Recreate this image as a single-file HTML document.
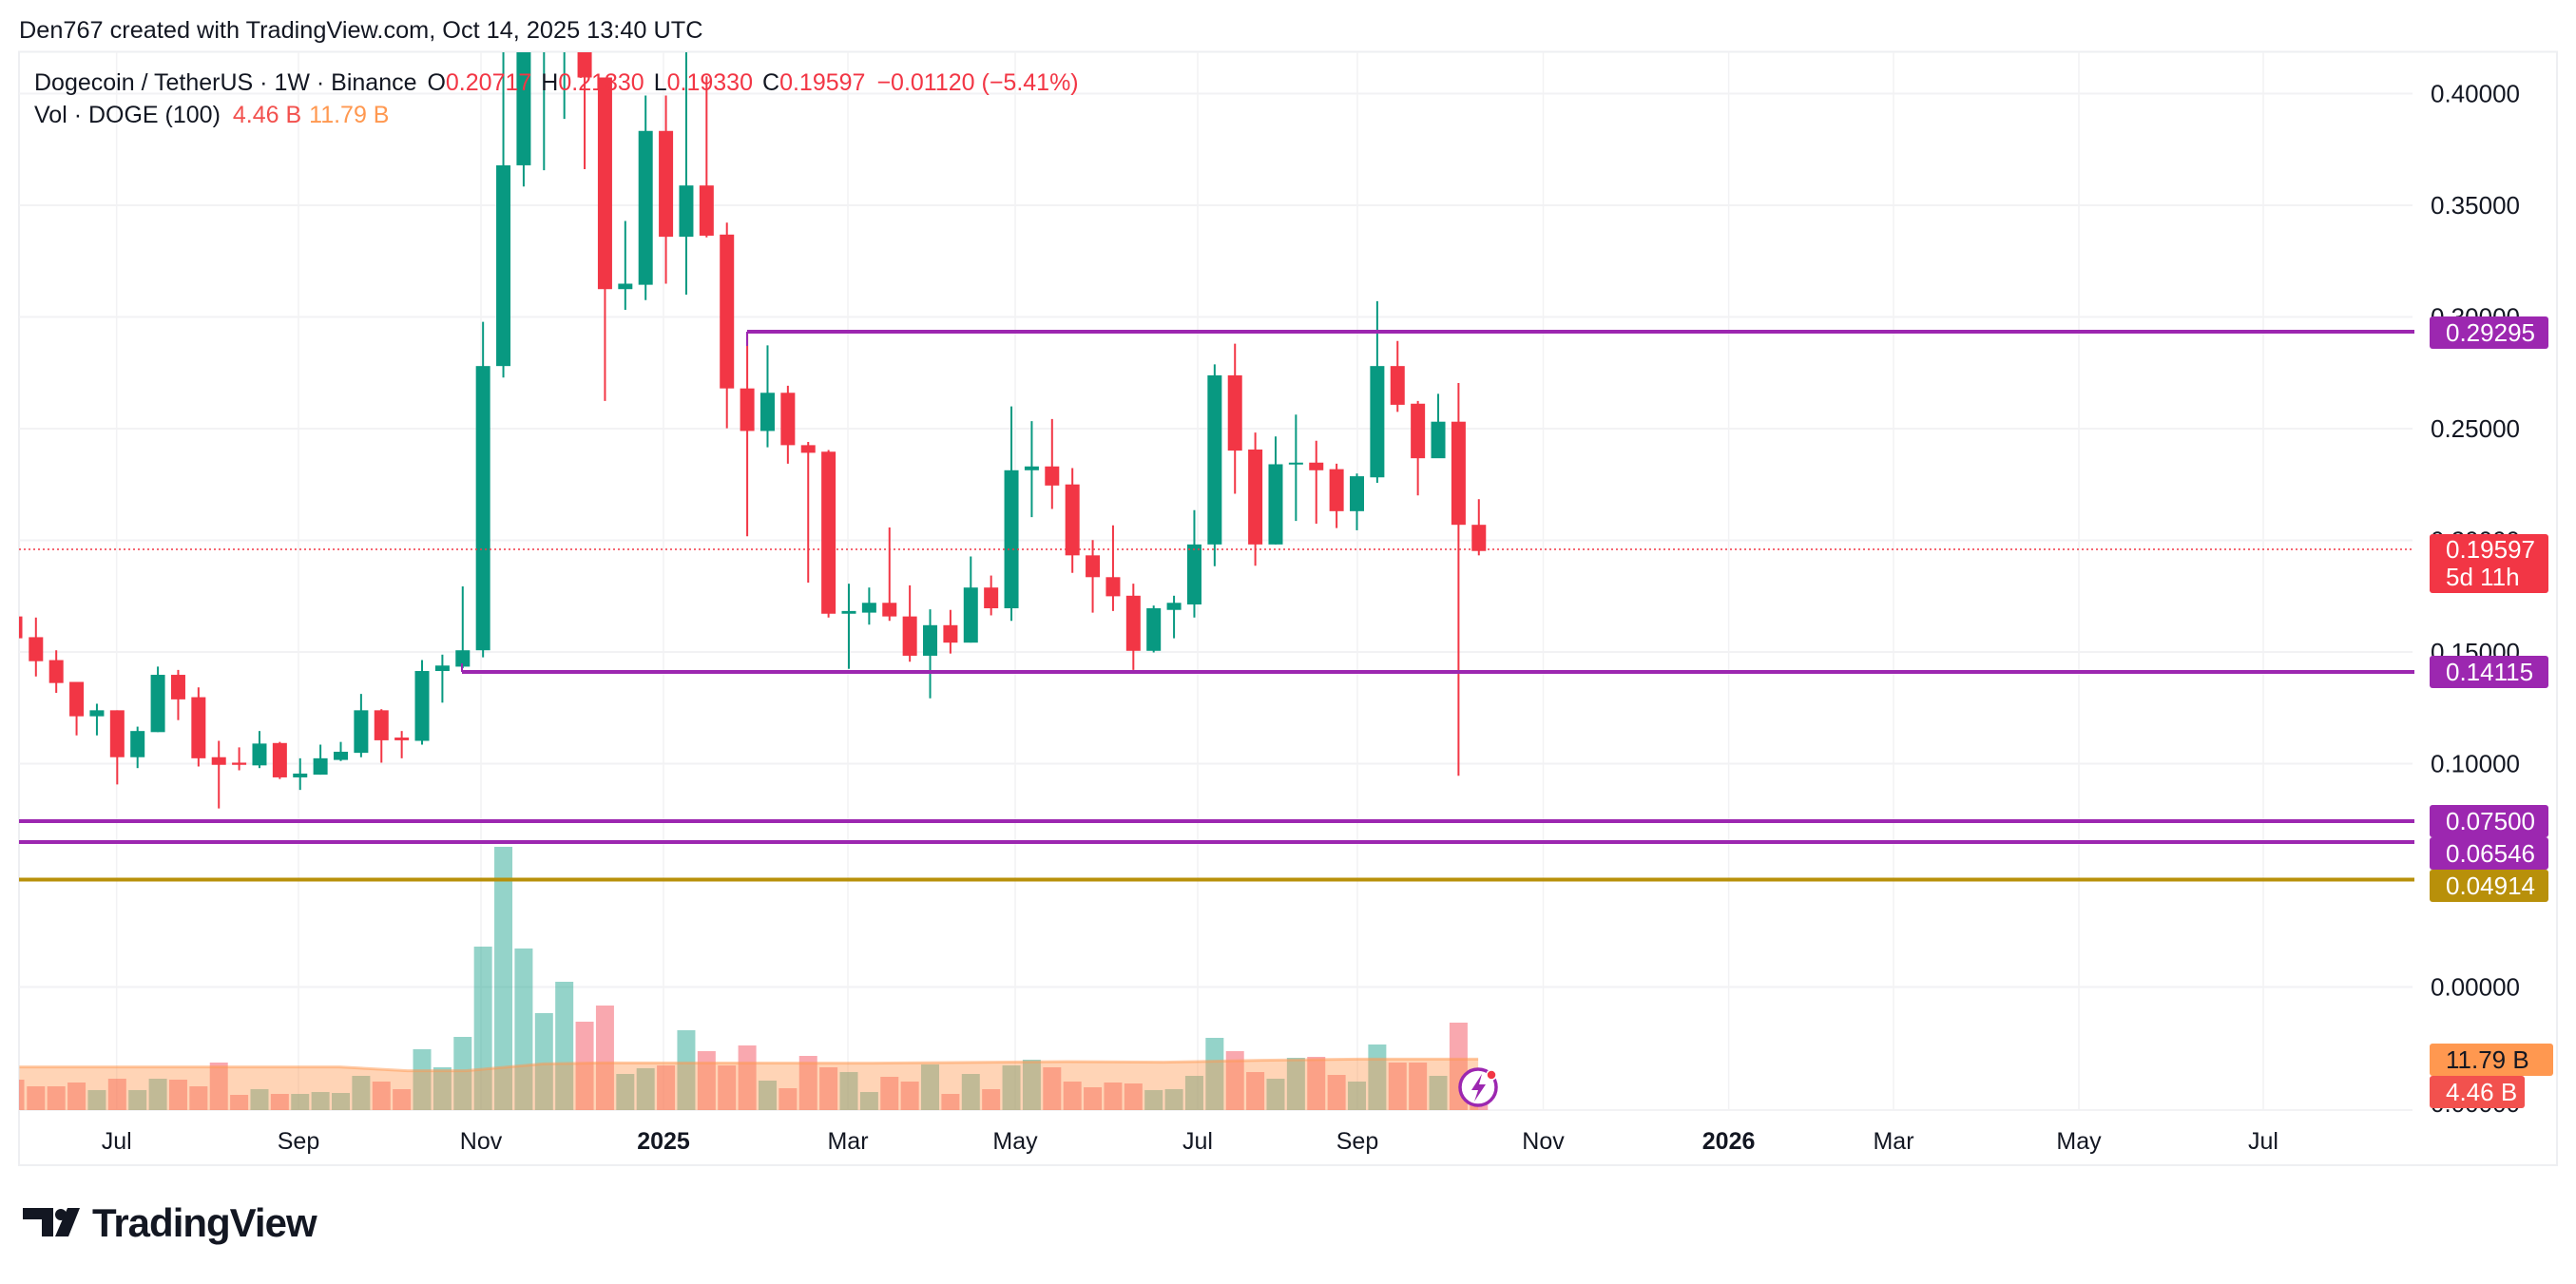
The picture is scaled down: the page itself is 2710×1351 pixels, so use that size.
<!DOCTYPE html>
<html><head><meta charset="utf-8">
<style>
html,body{margin:0;padding:0;background:#fff;}
body{width:2710px;height:1346px;overflow:hidden;font-family:"Liberation Sans",sans-serif;}
svg text{font-family:"Liberation Sans",sans-serif;}
</style></head><body>
<svg id="s" width="2710" height="1346" xmlns="http://www.w3.org/2000/svg"></svg>
<script>
const S=document.getElementById('s');
let h='';
const G='#089981',R='#F23645';
h+='<rect x="20" y="54.5" width="2670" height="1171.5" fill="none" stroke="#eeeff2" stroke-width="2"/>';
const tl=[[122.7,'Jul'],[314,'Sep'],[506,'Nov'],[698,'2025',1],[892,'Mar'],[1068,'May'],[1260,'Jul'],[1428,'Sep'],[1623.5,'Nov'],[1818.6,'2026',1],[1992,'Mar'],[2187,'May'],[2381,'Jul']];
tl.forEach(t=>{h+=`<line x1="${t[0]}" y1="55" x2="${t[0]}" y2="1168" stroke="#f2f2f4" stroke-width="1.5"/>`;});
const py=p=>803.5-(p-0.1)*2350;
[0.4,0.35,0.3,0.25,0.2,0.15,0.1,0.0].forEach(p=>{h+=`<line x1="20" y1="${py(p)}" x2="2538" y2="${py(p)}" stroke="#f2f2f4" stroke-width="2"/>`;});
h+=`<line x1="20" y1="1168" x2="2538" y2="1168" stroke="#f2f2f4" stroke-width="2"/>`;
const C=[
['r',1130,1130,1170,1170,20],['r',1132,1168,1212,1240],['r',1192,1210,1252,1270],['r',1250,1250,1313,1348],['g',1290,1302,1313,1348],
['r',1302,1302,1388,1438],['g',1332,1340,1388,1408],['g',1222,1237,1342,1342],['r',1228,1237,1282,1320],['r',1260,1278,1390,1405],
['r',1358,1388,1402,1482],['r',1370,1398,1402,1412],['g',1340,1363,1403,1408],['r',1360,1362,1425,1428],['g',1390,1418,1425,1448],
['g',1365,1390,1420,1420],['g',1360,1378,1393,1395],['g',1272,1302,1380,1388],['r',1300,1302,1357,1398],['r',1340,1352,1357,1390],
['g',1210,1230,1358,1365],['g',1200,1220,1230,1288],['g',1075,1192,1222,1225],['g',590,671,1192,1205],['g',-200,303,671,692],
['g',-200,-100,303,342],['g',-200,-100,60,312],['g',-200,-100,60,218],['r',-200,-100,142,310],['r',142,142,530,735],
['g',405,520,530,568],['g',175,240,522,550],['r',175,240,434,520],['g',-100,340,434,540],['r',140,340,432,435],
['r',408,430,712,785],['r',608,712,790,983],['g',633,720,790,820],['r',707,720,816,850],['r',810,816,830,1068],
['r',825,828,1125,1132],['g',1070,1120,1125,1226],['g',1077,1105,1123,1145],['r',967,1105,1130,1138],['r',1073,1130,1202,1213],
['g',1117,1146,1202,1280],['r',1118,1146,1178,1198],['g',1020,1077,1178,1178],['r',1055,1077,1115,1128],['g',745,862,1115,1138],
['g',772,855,862,948],['r',768,855,890,933],['r',858,888,1018,1050],['r',990,1018,1058,1123],['r',963,1058,1093,1120],
['r',1070,1092,1193,1228],['g',1110,1115,1193,1196],['g',1092,1105,1118,1170],['g',935,998,1108,1132],['g',668,688,998,1038],
['r',630,688,826,905],['r',793,824,998,1037],['g',800,851,998,998],['g',760,848,851,955],['r',808,848,862,960],
['r',850,860,937,968],['g',868,873,937,972],['g',552,671,875,885],['r',625,671,742,755],['r',735,740,840,908],
['g',722,773,840,838],['r',702,773,962,1422],['r',915,962,1010,1018]];
const V=[798,819,819,807,831,795,831,795,798,819,744,846,828,843,843,837,840,786,804,828,702,759,663,378,63,384,588,489,615,564,780,762,753,642,708,753,690,801,825,723,759,774,837,789,804,750,843,780,828,753,735,759,804,822,807,810,831,828,786,666,708,774,795,729,726,783,804,687,744,744,786,618,850];
const DX=21.38;
const cx=i=>i==0?16:37.8+(i-1)*DX;
h+='<defs><clipPath id="cp"><rect x="20" y="55" width="2518" height="1113"/></clipPath></defs><g clip-path="url(#cp)">';
C.forEach((c,i)=>{const x=cx(i);const t=870+V[i]/3;h+=`<rect x="${x-9.5}" y="${t}" width="19" height="${1168.7-t}" fill="${c[0]=='g'?'rgba(8,153,129,0.43)':'rgba(242,54,69,0.43)'}"/>`;});
const MA=[[20,758],[350,758],[420,770],[480,770],[560,748],[620,745],[900,746],[1100,741],[1200,743],[1300,737],[1400,733],[1524,733]].map(p=>[p[0]*1.0204,870+p[1]/3]);
let d='M'+MA.map(p=>p[0]+','+p[1]).join(' L');
h+=`<path d="${d} L${MA[MA.length-1][0]},1168.7 L${MA[0][0]},1168.7 Z" fill="rgba(255,152,80,0.42)"/>`;
h+=`<path d="${d}" fill="none" stroke="rgba(255,152,80,0.5)" stroke-width="3"/>`;
C.forEach((c,i)=>{const x=cx(i);const k=0.574;const col=c[0]=='g'?G:R;
const wt=c[1]*k,bt=c[2]*k,bb=Math.max(c[3]*k,bt+2),wb=c[4]*k;
h+=`<line x1="${x}" y1="${wt}" x2="${x}" y2="${wb}" stroke="${col}" stroke-width="2"/>`;
h+=`<rect x="${x-7.5}" y="${bt}" width="15" height="${bb-bt}" fill="${col}"/>`;});
h+='</g>';
h+=`<line x1="20" y1="${py(0.19597)}" x2="2540" y2="${py(0.19597)}" stroke="${R}" stroke-width="1.5" stroke-dasharray="2,3"/>`;
h+=`<line x1="786" y1="349" x2="2540" y2="349" stroke="#9C27B0" stroke-width="4"/>`;
h+=`<line x1="786" y1="349" x2="786" y2="364" stroke="#9C27B0" stroke-width="2"/>`;
h+=`<line x1="486" y1="707" x2="2540" y2="707" stroke="#9C27B0" stroke-width="4"/>`;
h+=`<line x1="486" y1="707" x2="486" y2="698" stroke="#9C27B0" stroke-width="2"/>`;
h+=`<line x1="20" y1="864" x2="2540" y2="864" stroke="#9C27B0" stroke-width="4"/>`;
h+=`<line x1="20" y1="886" x2="2540" y2="886" stroke="#9C27B0" stroke-width="4"/>`;
h+=`<line x1="20" y1="925.5" x2="2540" y2="925.5" stroke="#B8900A" stroke-width="4"/>`;
h+=`<circle cx="1555" cy="1144" r="19" fill="#fff" stroke="#9C27B0" stroke-width="3.5"/>`;
h+=`<path d="M1559,1130 L1548,1147 L1555,1147 L1551,1159 L1563,1141 L1556,1141 Z" fill="#9C27B0"/>`;
h+=`<circle cx="1569" cy="1131" r="5" fill="${R}" stroke="#fff" stroke-width="1.5"/>`;
const al=(y,t)=>{h+=`<text x="2557" y="${y+9}" font-size="26" fill="#131722">${t}</text>`;};
[[0.4,'0.40000'],[0.35,'0.35000'],[0.3,'0.30000'],[0.25,'0.25000'],[0.2,'0.20000'],[0.15,'0.15000'],[0.1,'0.10000'],[0.0,'0.00000']].forEach(a=>al(py(a[0]),a[1]));
al(1161,'0.00000');
const bx=(y1,y2,col,t,w)=>{h+=`<rect x="2556" y="${y1}" width="${w||125}" height="${y2-y1}" rx="3" fill="${col}"/>`;h+=`<text x="2573" y="${(y1+y2)/2+9}" font-size="26" fill="#fff">${t}</text>`;};
bx(333,367,'#9C27B0','0.29295');
h+=`<rect x="2556" y="562" width="125" height="62" rx="3" fill="${R}"/><text x="2573" y="587" font-size="26" fill="#fff">0.19597</text><text x="2573" y="616" font-size="26" fill="#fff">5d 11h</text>`;
bx(690,724,'#9C27B0','0.14115');
bx(847,881,'#9C27B0','0.07500');
bx(881,915,'#9C27B0','0.06546');
bx(915,949,'#B8900A','0.04914');
h+=`<rect x="2556" y="1098" width="130" height="34" rx="3" fill="#FF9850"/><text x="2573" y="1124" font-size="26" fill="#131722">11.79 B</text>`;
h+=`<rect x="2556" y="1132" width="100" height="34" rx="3" fill="#F2514E"/><text x="2573" y="1158" font-size="26" fill="#fff">4.46 B</text>`;
tl.forEach(t=>{h+=`<text x="${t[0]}" y="1209" font-size="25" text-anchor="middle" fill="#131722" ${t[2]?'font-weight="bold"':''}>${t[1]}</text>`;});
h+=`<text x="20" y="40" font-size="25.3" fill="#131722">Den767 created with TradingView.com, Oct 14, 2025 13:40 UTC</text>`;
h+=`<text x="36" y="95" font-size="25" fill="#131722">Dogecoin / TetherUS · 1W · Binance <tspan dx="4">O</tspan><tspan fill="${R}">0.20717</tspan><tspan dx="10">H</tspan><tspan fill="${R}">0.21330</tspan><tspan dx="10">L</tspan><tspan fill="${R}">0.19330</tspan><tspan dx="10">C</tspan><tspan fill="${R}">0.19597</tspan><tspan dx="12" fill="${R}">−0.01120 (−5.41%)</tspan></text>`;
h+=`<text x="36" y="129" font-size="25" fill="#131722">Vol · DOGE (100) <tspan dx="6" fill="#F2514E">4.46 B</tspan><tspan dx="8" fill="#FF9850">11.79 B</tspan></text>`;
h+=`<path d="M24,1271 H56 V1301 H44 V1283 H24 Z" fill="#131722"/><circle cx="64" cy="1278" r="6" fill="#131722"/><path d="M71,1271 H84 L72,1301 H58 Z" fill="#131722"/>`;
h+=`<text x="97" y="1301" font-size="42" font-weight="bold" fill="#131722" letter-spacing="-1">TradingView</text>`;
S.innerHTML=h;
</script>
</body></html>
